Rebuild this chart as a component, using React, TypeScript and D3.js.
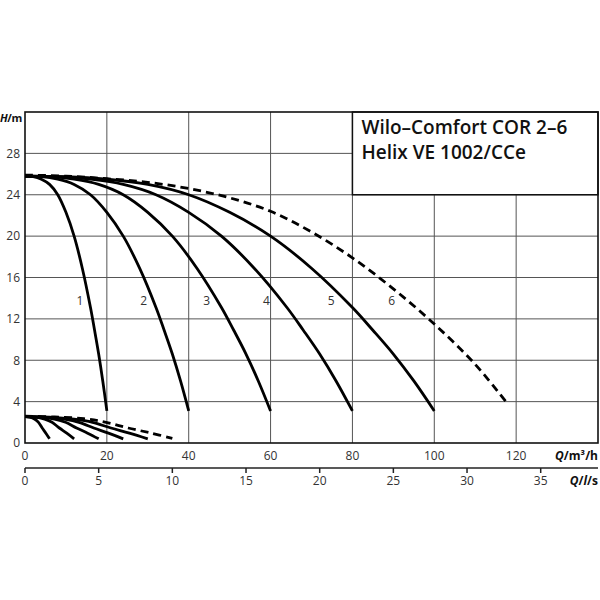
import { useEffect, useRef } from 'react';
import * as d3 from 'd3';

type Pt = [number, number];

// head curves H(Q) for 1..5 pumps running, and the 6-pump (dashed) curve
const head1: Pt[] = [[0, 25.8], [2, 25.75], [4, 25.5], [6, 25.0], [8, 24.0], [10, 22.3], [12, 20.0], [14, 16.9], [16, 13.1], [17, 10.9], [18, 8.6], [19, 6.0], [20, 3.1]];
const head2: Pt[] = [[0, 25.8], [4, 25.75], [8, 25.5], [12, 25.0], [16, 24.0], [20, 22.3], [24, 20.0], [28, 16.9], [32, 13.1], [34, 10.9], [36, 8.6], [38, 6.0], [40, 3.1]];
const head3: Pt[] = [[0, 25.8], [6, 25.75], [12, 25.5], [18, 25.0], [24, 24.0], [30, 22.3], [36, 20.0], [42, 16.9], [48, 13.1], [51, 10.9], [54, 8.6], [57, 6.0], [60, 3.1]];
const head4: Pt[] = [[0, 25.8], [8, 25.75], [16, 25.5], [24, 25.0], [32, 24.0], [40, 22.3], [48, 20.0], [56, 16.9], [64, 13.1], [68, 10.9], [72, 8.6], [76, 6.0], [80, 3.1]];
const head5: Pt[] = [[0, 25.8], [10, 25.75], [20, 25.5], [30, 25.0], [40, 24.0], [50, 22.3], [60, 20.0], [70, 16.9], [80, 13.1], [85, 10.9], [90, 8.6], [95, 6.0], [100, 3.1]];
const head6: Pt[] = [[0, 25.9], [10, 25.8], [20, 25.55], [30, 25.2], [40, 24.6], [50, 23.7], [60, 22.4], [70, 20.4], [80, 17.9], [90, 14.9], [100, 11.5], [110, 7.6], [117.9, 3.8]];

// NPSH curves at the bottom
const npsh1: Pt[] = [[0, 2.55], [1.2, 2.5], [2.4, 2.3], [3.3, 2.0], [4.2, 1.45], [5.1, 0.95], [6, 0.4]];
const npsh2: Pt[] = [[0, 2.55], [2.4, 2.5], [4.8, 2.3], [6.6, 2.0], [8.4, 1.45], [10.2, 0.95], [12, 0.4]];
const npsh3: Pt[] = [[0, 2.55], [3.6, 2.5], [7.2, 2.3], [9.9, 2.0], [12.6, 1.45], [15.3, 0.95], [18, 0.4]];
const npsh4: Pt[] = [[0, 2.55], [4.8, 2.5], [9.6, 2.3], [13.2, 2.0], [16.8, 1.45], [20.4, 0.95], [24, 0.4]];
const npsh5: Pt[] = [[0, 2.55], [6, 2.5], [12, 2.3], [16.5, 2.0], [21, 1.45], [25.5, 0.95], [30, 0.4]];
const npsh6: Pt[] = [[0, 2.6], [7.2, 2.52], [14.4, 2.35], [19.8, 2.0], [25.2, 1.45], [30.6, 0.98], [36, 0.45]];

const curveNames = ['1', '2', '3', '4', '5', '6'];
const labelQ = [13.4, 29, 44.4, 59, 74.8, 89.6];
const labelH = 13.8;

const qTicks = [0, 20, 40, 60, 80, 100, 120];
const hTicks = [0, 4, 8, 12, 16, 20, 24, 28];
const lsTicks = [0, 5, 10, 15, 20, 25, 30, 35];

const titleLines = ['Wilo–Comfort COR 2–6', 'Helix VE 1002/CCe'];

const App = () => {
  const ref = useRef<SVGSVGElement | null>(null);

  useEffect(() => {
    const svg = d3.select(ref.current);
    svg.selectAll('*').remove();

    const font = "'Open Sans', 'Noto Sans', sans-serif";
    const x = d3.scaleLinear().domain([0, 140]).range([25, 598]);
    const y = d3.scaleLinear().domain([0, 32]).range([443, 112]);
    // l/s axis: 1 l/s = 3.6 m3/h
    const xls = d3.scaleLinear().domain([0, 140 / 3.6]).range([25, 598]);

    // grid
    const grid = svg.append('g').attr('stroke', '#555').attr('stroke-width', 1);
    grid.selectAll('.vg')
      .data(qTicks.filter(d => d > 0))
      .enter().append('line')
      .attr('x1', d => x(d)).attr('x2', d => x(d))
      .attr('y1', y(32)).attr('y2', y(0));
    grid.selectAll('.hg')
      .data(hTicks.filter(d => d > 0))
      .enter().append('line')
      .attr('x1', x(0)).attr('x2', x(140))
      .attr('y1', d => y(d)).attr('y2', d => y(d));

    // title box covers the grid
    svg.append('rect')
      .attr('x', x(80)).attr('y', y(32))
      .attr('width', x(140) - x(80)).attr('height', y(24) - y(32))
      .attr('fill', '#fff').attr('stroke', '#111').attr('stroke-width', 1.5);
    svg.append('g').selectAll('text')
      .data(titleLines)
      .enter().append('text')
      .attr('x', x(80) + 9)
      .attr('y', (d, i) => 134 + i * 25)
      .attr('font-family', font).attr('font-weight', 600).attr('font-size', 19)
      .attr('fill', '#111')
      .text(d => d);

    // plot border
    svg.append('rect')
      .attr('x', x(0)).attr('y', y(32))
      .attr('width', x(140) - x(0)).attr('height', y(0) - y(32))
      .attr('fill', 'none').attr('stroke', '#111').attr('stroke-width', 1.6);

    // y tick labels
    svg.append('g').selectAll('text')
      .data(hTicks)
      .enter().append('text')
      .attr('x', 20).attr('y', d => y(d) + 4.3)
      .attr('text-anchor', 'end')
      .attr('font-family', font).attr('font-size', 12).attr('fill', '#333')
      .text(d => d);

    // x tick labels (m3/h)
    svg.append('g').selectAll('text')
      .data(qTicks)
      .enter().append('text')
      .attr('x', d => x(d)).attr('y', 459.5)
      .attr('text-anchor', 'middle')
      .attr('font-family', font).attr('font-size', 12).attr('fill', '#333')
      .text(d => d);

    // l/s axis
    svg.append('line')
      .attr('x1', x(0)).attr('x2', x(140))
      .attr('y1', 468).attr('y2', 468)
      .attr('stroke', '#222').attr('stroke-width', 1.5);
    svg.append('g').selectAll('line')
      .data(lsTicks)
      .enter().append('line')
      .attr('x1', d => xls(d)).attr('x2', d => xls(d))
      .attr('y1', 468).attr('y2', 473)
      .attr('stroke', '#222').attr('stroke-width', 1.5);
    svg.append('g').selectAll('text')
      .data(lsTicks)
      .enter().append('text')
      .attr('x', d => xls(d)).attr('y', 485)
      .attr('text-anchor', 'middle')
      .attr('font-family', font).attr('font-size', 12).attr('fill', '#333')
      .text(d => d);

    // axis titles
    const hLab = svg.append('text')
      .attr('x', 0).attr('y', 122)
      .attr('font-family', font).attr('font-size', 11).attr('font-weight', 700)
      .attr('letter-spacing', -0.4).attr('fill', '#111');
    hLab.append('tspan').attr('font-style', 'italic').text('H');
    hLab.append('tspan').text('/m');

    const qLab = svg.append('text')
      .attr('x', 598).attr('y', 459.5).attr('text-anchor', 'end')
      .attr('font-family', font).attr('font-size', 12).attr('font-weight', 700).attr('fill', '#111');
    qLab.append('tspan').attr('font-style', 'italic').text('Q');
    qLab.append('tspan').text('/m³/h');

    const lsLab = svg.append('text')
      .attr('x', 598).attr('y', 485).attr('text-anchor', 'end')
      .attr('font-family', font).attr('font-size', 12).attr('font-weight', 700).attr('fill', '#111');
    lsLab.append('tspan').attr('font-style', 'italic').text('Q');
    lsLab.append('tspan').text('/');
    lsLab.append('tspan').attr('font-style', 'italic').text('l');
    lsLab.append('tspan').text('/s');

    // curves
    const line = d3.line<Pt>()
      .x(d => x(d[0]))
      .y(d => y(d[1]))
      .curve(d3.curveCatmullRom.alpha(0.5));

    const solid = [head1, head2, head3, head4, head5, npsh1, npsh2, npsh3, npsh4, npsh5];
    const dashed = [head6, npsh6];

    svg.append('g').selectAll('path')
      .data(solid)
      .enter().append('path')
      .attr('d', d => line(d))
      .attr('fill', 'none').attr('stroke', '#000').attr('stroke-width', 2.8);

    svg.append('g').selectAll('path')
      .data(dashed)
      .enter().append('path')
      .attr('d', d => line(d))
      .attr('fill', 'none').attr('stroke', '#000').attr('stroke-width', 2.8)
      .attr('stroke-dasharray', '8,5');

    // curve numbers
    svg.append('g').selectAll('text')
      .data(curveNames)
      .enter().append('text')
      .attr('x', (d, i) => x(labelQ[i])).attr('y', y(labelH) + 4.3)
      .attr('text-anchor', 'middle')
      .attr('font-family', font).attr('font-size', 12).attr('fill', '#333')
      .text(d => d);
  }, []);

  return (
    <div style={{ position: 'absolute', left: 0, top: 0 }}>
      <svg ref={ref} width={600} height={600} style={{ display: 'block', background: '#fff' }}></svg>
    </div>
  );
};

export default App;
